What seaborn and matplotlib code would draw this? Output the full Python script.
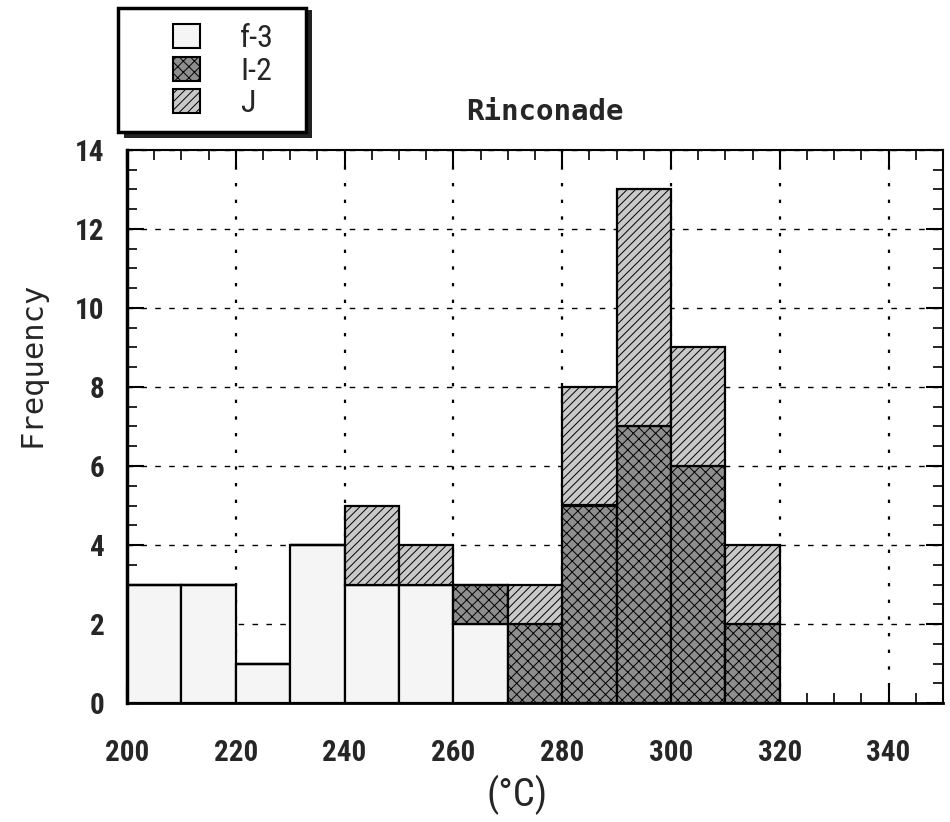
import numpy as np
import pandas as pd
import matplotlib
matplotlib.use("Agg")
import matplotlib.pyplot as plt
from matplotlib import font_manager
from matplotlib.patches import Patch, Rectangle
import seaborn as sns

# ---- data ----
bin_left = [200, 210, 220, 230, 240, 250, 260, 270, 280, 290, 300, 310]
f3_counts = [3, 3, 1, 4, 3, 3, 2, 0, 0, 0, 0, 0]
i2_counts = [0, 0, 0, 0, 0, 0, 1, 2, 5, 7, 6, 2]
j_counts = [0, 0, 0, 0, 2, 1, 0, 1, 3, 6, 3, 2]
series_names = ["f-3", "I-2", "J"]
x_ticks = [200, 220, 240, 260, 280, 300, 320, 340]
y_ticks = [0, 2, 4, 6, 8, 10, 12, 14]

rows = []
for name, counts in zip(series_names, [f3_counts, i2_counts, j_counts]):
    for left, c in zip(bin_left, counts):
        rows.append({"temp": left + 5, "count": c, "type": name})
df = pd.DataFrame(rows)

sns.set_theme(style="white")

# pick a condensed font if one is installed
entries = [(f.name, f.stretch) for f in font_manager.fontManager.ttflist]
names = {e[0] for e in entries}
narrow_family, narrow_stretch, narrow_scale = "DejaVu Sans", "normal", 0.78
for cand in ["Liberation Sans Narrow", "Roboto Condensed", "Open Sans Condensed",
             "Noto Sans Condensed", "Arial Narrow"]:
    if cand in names:
        narrow_family, narrow_stretch, narrow_scale = cand, "normal", 1.0
        break

NARROW = [narrow_family, "DejaVu Sans"]
MONO = ["DejaVu Sans Mono", "DejaVu Sans"]
plt.rcParams["font.family"] = NARROW
plt.rcParams["font.stretch"] = narrow_stretch
plt.rcParams["hatch.linewidth"] = 0.7

palette = {"f-3": "#f5f5f5", "I-2": "#8e8e8e", "J": "#c9c9c9"}
hatches = {"f-3": "", "I-2": "xxx", "J": "////"}

fig = plt.figure(figsize=(9.5, 8.22), dpi=100)
ax = fig.add_axes([127 / 950, 1 - 703 / 822, (943 - 127) / 950, (703 - 150) / 822])

# seaborn stacks the first hue level on top, so reverse for f-3 at the bottom
sns.histplot(data=df, x="temp", weights="count", hue="type",
             hue_order=series_names[::-1], multiple="stack", binwidth=10,
             binrange=(200, 320), palette=palette, alpha=1,
             edgecolor="black", linewidth=1.6, legend=False, ax=ax)

inv = {matplotlib.colors.to_hex(v): k for k, v in palette.items()}
for p in ax.patches:
    key = inv.get(matplotlib.colors.to_hex(p.get_facecolor()[:3]))
    if key:
        p.set_hatch(hatches[key])

ax.set_xlim(200, 350)
ax.set_ylim(0, 14)
ax.set_xticks(x_ticks)
ax.set_yticks(y_ticks)
ax.set_xticks(np.arange(200, 351, 5), minor=True)
ax.set_yticks(np.arange(0, 14.01, 0.5), minor=True)
ax.tick_params(axis="both", which="both", direction="in", top=True, right=True,
               bottom=True, left=True, color="black")
ax.tick_params(which="major", length=12, width=1.5)
ax.tick_params(which="minor", length=7, width=1.2)
tick_fs = 21 * narrow_scale
ax.tick_params(axis="x", which="major", pad=26, labelsize=tick_fs)
ax.tick_params(axis="y", which="major", pad=16, labelsize=tick_fs)
for lab in ax.get_xticklabels() + ax.get_yticklabels():
    lab.set_fontweight("bold")

ax.set_axisbelow(True)
ax.xaxis.grid(True, linestyle=(0, (1.5, 6)), color="black", linewidth=1.6)
ax.yaxis.grid(True, linestyle=(0, (4, 6)), color="black", linewidth=1.0)
for s in ax.spines.values():
    s.set_color("black")
ax.spines["left"].set_linewidth(2.5)
ax.spines["bottom"].set_linewidth(2.0)
ax.spines["top"].set_linewidth(1.5)
ax.spines["right"].set_linewidth(1.5)

ax.set_xlabel("")
ax.set_ylabel("")
fig.text(517 / 950, 1 - 795 / 822, "(°C)", ha="center", va="center",
         fontsize=28 * narrow_scale, family=NARROW)
fig.text(32 / 950, 1 - 364 / 822, "Frequency", ha="center",
         va="center", rotation=90, fontsize=22, family=MONO)
fig.text(545 / 950, 1 - 112 / 822, "Rinconade", ha="center", va="center",
         fontsize=21, family=MONO, fontweight="bold")

# legend box with shadow
fig.patches.append(Rectangle((124 / 950, 1 - 138 / 822), 188 / 950, 128 / 822,
                             transform=fig.transFigure, facecolor="#222222",
                             edgecolor="none", zorder=1))
fig.patches.append(Rectangle((118 / 950, 1 - 132 / 822), 188 / 950, 124 / 822,
                             transform=fig.transFigure, facecolor="white",
                             edgecolor="black", linewidth=2.5, zorder=2))
handles = [Patch(facecolor=palette[n], edgecolor="black", hatch=hatches[n],
                 linewidth=1.5, label=n) for n in series_names]
leg = fig.legend(handles=handles, loc="upper left",
                 bbox_to_anchor=(173 / 950, 1 - 24 / 822), frameon=False,
                 fontsize=23 * narrow_scale, handlelength=0.85, handleheight=0.8,
                 handletextpad=1.25, labelspacing=0.1, borderpad=0.0,
                 borderaxespad=0.0)
leg.set_zorder(5)

fig.savefig("out.png", dpi=100)
